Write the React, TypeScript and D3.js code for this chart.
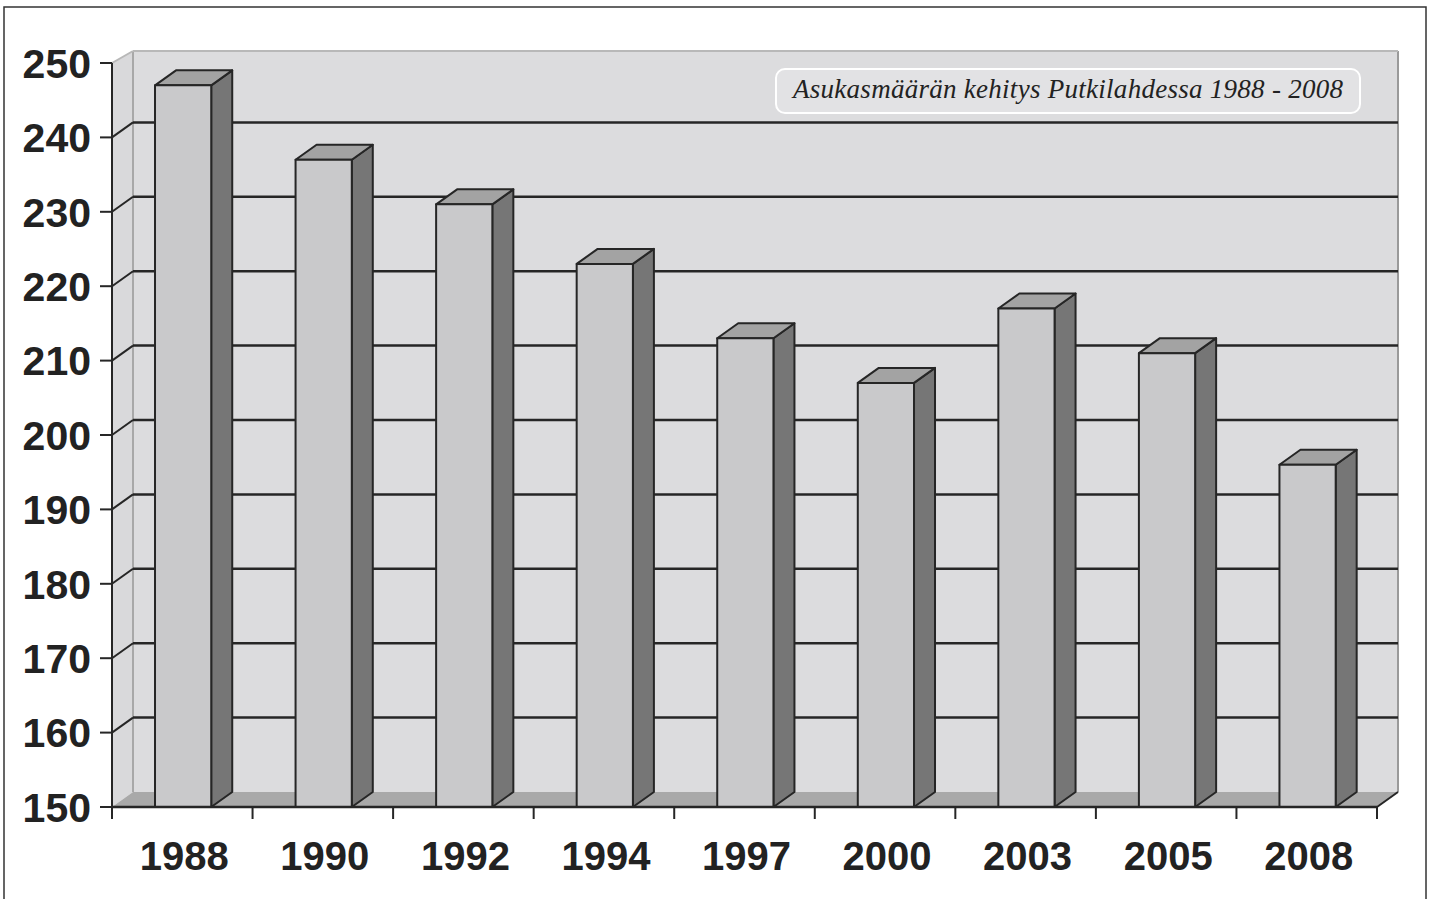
import React from 'react';
import * as d3 from 'd3';

const years = ['1988', '1990', '1992', '1994', '1997', '2000', '2003', '2005', '2008'];
const residents = [247, 237, 231, 223, 213, 207, 217, 211, 196];
const yTicks = [150, 160, 170, 180, 190, 200, 210, 220, 230, 240, 250];
const chartTitle = 'Asukasmäärän kehitys Putkilahdessa 1988 - 2008';

const W = 1432;
const H = 899;
// depth offset of the 3D box (back plane relative to front plane)
const DX = 21;
const DY = -15;

const App: React.FC = () => {
  const x = d3.scaleBand<string>().domain(years).range([112, 1377]).padding(0);
  const y = d3.scaleLinear().domain([150, 250]).range([807, 63]);
  const bw = x.bandwidth();
  const x0 = 112;
  const x1 = 1377;
  const yBase = y(150);
  const yTop = y(250);

  const wallFill = '#dcdcde';
  const dark = '#262626';

  const poly = (pts: [number, number][]) => pts.map(p => p.join(',')).join(' ');

  return (
    <div style={{ position: 'absolute', left: 0, top: 0 }}>
      <svg width={W} height={H} style={{ display: 'block', background: '#fff' }}>
        {/* outer frame */}
        <rect x={4} y={7} width={1422} height={H + 10} fill="none" stroke="#333" strokeWidth={1.5} />

        {/* back wall */}
        <rect x={x0 + DX} y={yTop + DY + 3} width={x1 - x0} height={yBase - yTop - 3} fill={wallFill} />
        {/* left side wall */}
        <polygon
          points={poly([[x0, yTop], [x0 + DX, yTop + DY + 3], [x0 + DX, yBase + DY], [x0, yBase]])}
          fill="#d9d9db"
        />
        {/* wall edges */}
        <line x1={x0 + DX} x2={x0 + DX} y1={yTop + DY + 3} y2={yBase + DY} stroke="#a8a8a8" strokeWidth={2} />
        <line x1={x1 + DX} x2={x1 + DX} y1={yTop + DY + 3} y2={yBase + DY} stroke="#9a9a9a" strokeWidth={2} />
        <line x1={x0 + DX} x2={x1 + DX} y1={yTop + DY + 3} y2={yTop + DY + 3} stroke="#b8b8b8" strokeWidth={2} />
        <line x1={x0} x2={x0 + DX} y1={yTop} y2={yTop + DY + 3} stroke="#b8b8b8" strokeWidth={2} />

        {/* gridlines on back and side walls */}
        {yTicks.filter(t => t > 150 && t < 250).map(t => (
          <g key={t}>
            <line x1={x0 + DX} x2={x1 + DX} y1={y(t) + DY} y2={y(t) + DY} stroke={dark} strokeWidth={2.5} />
            <line x1={x0} x2={x0 + DX} y1={y(t)} y2={y(t) + DY} stroke={dark} strokeWidth={2} />
          </g>
        ))}

        {/* floor */}
        <polygon
          points={poly([[x0, yBase], [x1, yBase], [x1 + DX, yBase + DY], [x0 + DX, yBase + DY]])}
          fill="#a9a9a9"
        />
        <line x1={x1} x2={x1 + DX} y1={yBase} y2={yBase + DY} stroke={dark} strokeWidth={2} />

        {/* title box */}
        <rect x={776} y={69} width={584} height={44} rx={9} fill="#e2e2e4" stroke="#fff" strokeWidth={2} />
        <text
          x={1068}
          y={98}
          textAnchor="middle"
          fontFamily="'Liberation Serif', 'DejaVu Serif', serif"
          fontStyle="italic"
          fontSize={27}
          fill="#222"
          textLength={550}
          lengthAdjust="spacing"
        >
          {chartTitle}
        </text>

        {/* bars */}
        {years.map((yr, i) => {
          const bx = (x(yr) as number) + bw * 0.306;
          const bWidth = bw * 0.4;
          const top = y(residents[i]);
          const front: [number, number][] = [[bx, top], [bx + bWidth, top], [bx + bWidth, yBase], [bx, yBase]];
          const side: [number, number][] = [
            [bx + bWidth, top], [bx + bWidth + DX, top + DY], [bx + bWidth + DX, yBase + DY], [bx + bWidth, yBase],
          ];
          const cap: [number, number][] = [
            [bx, top], [bx + DX, top + DY], [bx + bWidth + DX, top + DY], [bx + bWidth, top],
          ];
          return (
            <g key={yr} stroke={dark} strokeWidth={2} strokeLinejoin="round">
              <polygon points={poly(side)} fill="#767676" />
              <polygon points={poly(cap)} fill="#a3a3a3" />
              <polygon points={poly(front)} fill="#c9c9cb" />
            </g>
          );
        })}

        {/* axes */}
        <line x1={x0} x2={x0} y1={yTop} y2={yBase + 1} stroke={dark} strokeWidth={2} />
        <line x1={x0} x2={x1} y1={yBase} y2={yBase} stroke={dark} strokeWidth={2.5} />
        {yTicks.map(t => (
          <g key={t}>
            <line x1={100} x2={x0} y1={y(t)} y2={y(t)} stroke={dark} strokeWidth={2} />
            <text
              x={91}
              y={y(t)}
              dy="0.36em"
              textAnchor="end"
              fontFamily="'Liberation Sans', Arial, sans-serif"
              fontWeight="bold"
              fontSize={41}
              fill="#222"
            >
              {t}
            </text>
          </g>
        ))}
        {[...years.map(yr => x(yr) as number), x1].map((tx, i) => (
          <line key={i} x1={tx} x2={tx} y1={yBase} y2={yBase + 12} stroke={dark} strokeWidth={2} />
        ))}
        {years.map(yr => (
          <text
            key={yr}
            x={(x(yr) as number) + bw / 2 + 2}
            y={870}
            textAnchor="middle"
            fontFamily="'Liberation Sans', Arial, sans-serif"
            fontWeight="bold"
            fontSize={40}
            fill="#222"
          >
            {yr}
          </text>
        ))}
      </svg>
    </div>
  );
};

export default App;
